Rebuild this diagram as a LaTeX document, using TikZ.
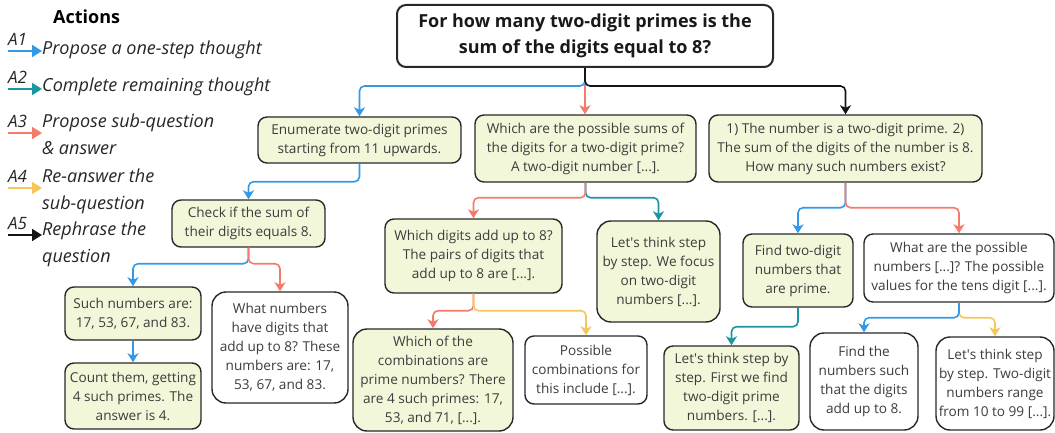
\documentclass[tikz,border=0pt]{standalone}
\usepackage{fontspec}
\setmainfont{Open Sans}
\usetikzlibrary{arrows.meta}
\definecolor{aone}{RGB}{51,153,230}
\definecolor{atwo}{RGB}{26,150,160}
\definecolor{athree}{RGB}{244,123,107}
\definecolor{afour}{RGB}{245,198,90}
\definecolor{afive}{RGB}{20,20,20}
\definecolor{boxfill}{RGB}{243,247,217}
\definecolor{boxline}{RGB}{40,40,40}
\definecolor{txt}{RGB}{60,60,60}

\begin{document}
\begin{tikzpicture}[x=1pt,y=-1pt]
\tikzset{thought/.style={draw=boxline, line width=1.4pt, rounded corners=9pt, fill=boxfill, text=txt, align=center, inner sep=0pt, font=\fontsize{13.6}{19}\selectfont}}
\tikzset{plain/.style={thought, fill=white}}
\tikzset{link/.style={line width=1.6pt, rounded corners=5pt, -{Stealth[length=9pt,width=11pt,inset=2.5pt]}}}
\tikzset{legtext/.style={anchor=west, align=left, inner sep=0pt, text=black!85, font=\fontsize{18}{27}\selectfont\itshape}}
\tikzset{leglabel/.style={anchor=south west, inner sep=0pt, text=black!85, font=\fontsize{17}{20}\selectfont\itshape}}
\tikzset{legarrow/.style={line width=2pt, -{Triangle[length=10pt,width=12pt]}}}
\useasboundingbox (0,0) rectangle (1055,433);
% legend
\node[anchor=west, inner sep=0pt, font=\fontsize{18}{20}\selectfont\bfseries] (act) at (53,17) {Actions};
\node[legtext] (P1) at (42,50) {Propose a one-step thought};
\node[legtext] (P2) at (42,87) {Complete remaining thought};
\node[legtext] (P3) at (42,134) {Propose sub-question\\\& answer};
\node[legtext] (P4) at (42,191) {Re-answer the\\sub-question};
\node[legtext] (P5) at (42,244) {Rephrase the\\question};
\coordinate (s1) at (8,51);
\coordinate (s2) at (8,89);
\coordinate (s3) at (8,133);
\coordinate (s4) at (8,188);
\coordinate (s5) at (8,235);
\draw[legarrow, aone] (s1) -- (s1 -| P1.west);
\draw[legarrow, atwo] (s2) -- (s2 -| P2.west);
\draw[legarrow, athree] (s3) -- (s3 -| P3.west);
\draw[legarrow, afour] (s4) -- (s4 -| P4.west);
\draw[legarrow, afive] (s5) -- (s5 -| P5.west);
\node[leglabel] (l1) at ([yshift=5pt]s1) {A1};
\node[leglabel] (l2) at ([yshift=5pt]s2) {A2};
\node[leglabel] (l3) at ([yshift=5pt]s3) {A3};
\node[leglabel] (l4) at ([yshift=5pt]s4) {A4};
\node[leglabel] (l5) at ([yshift=5pt]s5) {A5};
% question
\node[plain, line width=2pt, text=black!90, minimum width=376pt, minimum height=62pt, font=\fontsize{18}{26}\selectfont\bfseries] (T) at (585,36) {For how many two-digit primes is the\\sum of the digits equal to 8?};
% level 1
\node[thought, minimum width=203pt, minimum height=46pt] (B1) at (359.5,140) {Enumerate two-digit primes\\starting from 11 upwards.};
\node[thought, minimum width=221pt, minimum height=67pt] (B2) at (585.5,148.5) {Which are the possible sums of\\the digits for a two-digit prime?\\A two-digit number [...].};
\node[thought, minimum width=273pt, minimum height=67pt] (B3) at (845.5,148.5) {1) The number is a two-digit prime. 2)\\The sum of the digits of the number is 8.\\How many such numbers exist?};
% level 2
\node[thought, minimum width=153pt, minimum height=47pt] (C1) at (248.5,223.5) {Check if the sum of\\their digits equals 8.};
\node[thought, minimum width=177pt, minimum height=74pt] (C2) at (473.5,256) {Which digits add up to 8?\\The pairs of digits that\\add up to 8 are [...].};
\node[thought, minimum width=123pt, minimum height=101pt, rounded corners=14pt] (C3) at (658.5,271.5) {Let\textquotesingle s think step\\by step. We focus\\on two-digit\\numbers [...].};
\node[thought, minimum width=110pt, minimum height=73pt] (D1) at (798,270.5) {Find two-digit\\numbers that\\are prime.};
\node[plain, minimum width=190pt, minimum height=68pt] (D2) at (959,268) {What are the possible\\numbers [...]? The possible\\values for the tens digit [...].};
% level 3
\node[thought, minimum width=136pt, minimum height=53pt] (E1) at (133,313.5) {Such numbers are:\\17, 53, 67, and 83.};
\node[plain, minimum width=136pt, minimum height=111pt, rounded corners=14pt] (E2) at (280,347.5) {What numbers\\have digits that\\add up to 8? These\\numbers are: 17,\\53, 67, and 83.};
\node[thought, minimum width=136pt, minimum height=66pt] (E3) at (133,396) {Count them, getting\\4 such primes. The\\answer is 4.};
\node[thought, minimum width=160pt, minimum height=102pt, rounded corners=14pt] (F1) at (433,380) {Which of the\\combinations are\\prime numbers? There\\are 4 such primes: 17,\\53, and 71, [...].};
\node[plain, minimum width=122pt, minimum height=68pt] (F2) at (586,370) {Possible\\combinations for\\this include [...].};
\node[thought, minimum width=135pt, minimum height=84pt] (G1) at (731.5,388) {Let\textquotesingle s think step by\\step. First we find\\two-digit prime\\numbers. [...].};
\node[plain, minimum width=108pt, minimum height=97pt, rounded corners=14pt] (G2) at (864,381.5) {Find the\\numbers such\\that the digits\\add up to 8.};
\node[plain, minimum width=118pt, minimum height=93pt, rounded corners=14pt] (G3) at (995,383.5) {Let\textquotesingle s think step\\by step. Two-digit\\numbers range\\from 10 to 99 [...].};
% actions
\draw[link, athree] (T.south) -- (T.south |- B2.north);
\draw[link, aone] (T.south) -- ++(0,18) -| (B1.north);
\draw[link, afive] (T.south) -- ++(0,18) -| (B3.north);
\draw[link, aone] (B1.south) -- ++(0,18) -| (C1.north);
\draw[link, atwo] (B2.south) -- ++(0,15) -| (C3.north);
\draw[link, athree] (B2.south) -- ++(0,15) -| (C2.north);
\draw[link, aone] (B3.south) -- ++(0,25) -| (D1.north);
\draw[link, athree] (B3.south) -- ++(0,25) -| (D2.north);
\draw[link, aone] (C1.south) -- ++(0,16) -| (E1.north);
\draw[link, athree] (C1.south) -- ++(0,16) -| (E2.north);
\draw[link, aone] (E1.south) -- (E3.north);
\draw[link, athree] (C2.south) -- ++(0,17) -| (F1.north);
\draw[link, afour] (C2.south) -- ++(0,17) -| (F2.north);
\draw[link, atwo] (D1.south) -- ++(0,19) -| (G1.north);
\draw[link, afour] (D2.south) -- ++(0,15) -| (G3.north);
\draw[link, aone] (D2.south) -- ++(0,15) -| (G2.north);
\end{tikzpicture}
\end{document}
